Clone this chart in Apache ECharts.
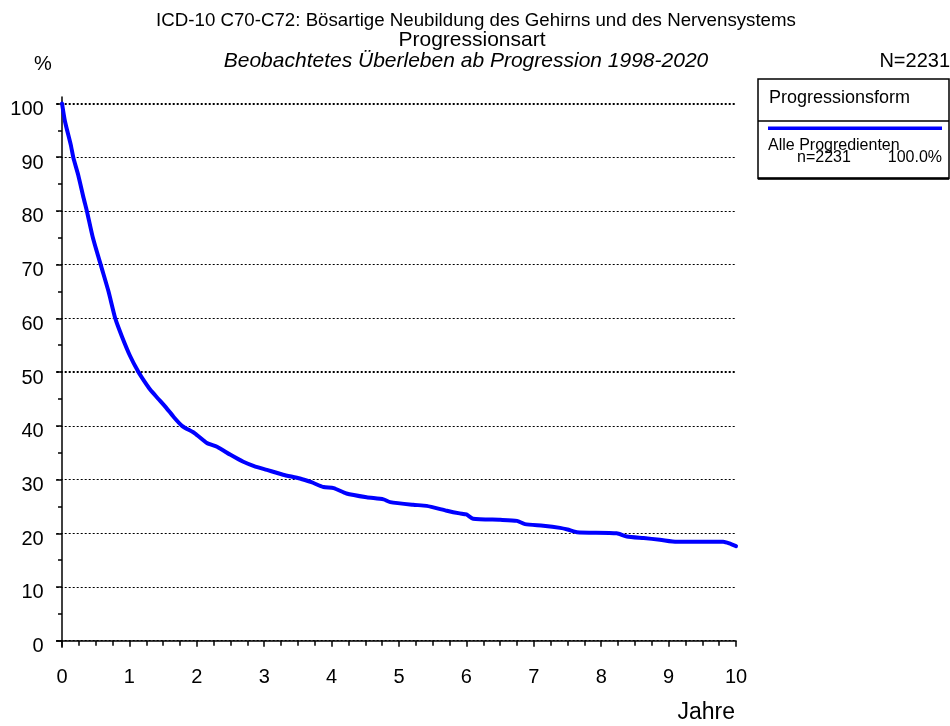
<!DOCTYPE html>
<html>
<head>
<meta charset="utf-8">
<script src="https://cdn.jsdelivr.net/npm/echarts@6.0.0/dist/echarts.min.js"></script>
<style>
html,body{margin:0;padding:0;background:#fff;}
#chart{width:950px;height:726px;}
</style>
</head>
<body>
<div id="chart"></div>
<script>
const years = [0,0.045,0.13,0.17,0.24,0.32,0.37,0.46,0.59,0.69,0.79,0.89,1.01,1.13,1.22,1.31,1.43,1.55,1.66,1.78,1.97,2.15,2.3,2.5,2.69,2.85,3.04,3.28,3.53,3.7,3.88,4.03,4.22,4.52,4.77,4.87,5.21,5.41,5.71,5.9,6.0,6.1,6.5,6.75,6.87,7.14,7.39,7.5,7.64,8.23,8.38,8.63,8.87,9.12,9.81,9.9,10];
const survival = [100,96.6,92.3,89.8,86.7,82.4,79.9,74.9,69.3,65,60,56.6,53.0,50.1,48.3,46.7,45,43.3,41.6,40,38.6,36.8,36.1,34.6,33.3,32.5,31.8,30.9,30.2,29.5,28.6,28.4,27.4,26.7,26.3,25.8,25.3,25.1,24.2,23.7,23.5,22.7,22.5,22.3,21.7,21.4,21.0,20.7,20.2,20.0,19.4,19.1,18.8,18.4,18.4,18.1,17.6];
const xTickLabels = [0,1,2,3,4,5,6,7,8,9,10];
const xMinorTicks = [0,0.25,0.5,0.75,1,1.25,1.5,1.75,2,2.25,2.5,2.75,3,3.25,3.5,3.75,4,4.25,4.5,4.75,5,5.25,5.5,5.75,6,6.25,6.5,6.75,7,7.25,7.5,7.75,8,8.25,8.5,8.75,9,9.25,9.5,9.75,10];
const yTickLabels = [0,10,20,30,40,50,60,70,80,90,100];
const yMinorTicks = [5,15,25,35,45,55,65,75,85,95];
const boldGrid = [50,100];
const titleLines = ['ICD-10 C70-C72: Bösartige Neubildung des Gehirns und des Nervensystems','Progressionsart','Beobachtetes Überleben ab Progression 1998-2020'];
const legendTitle = 'Progressionsform';
const seriesName = 'Alle Progredienten';
const seriesN = 'n=2231';
const seriesPct = '100.0%';
const totalN = 'N=2231';

const font = 'Arial, "Liberation Sans", sans-serif';
const chart = echarts.init(document.getElementById('chart'), null, {renderer:'canvas'});
const data = years.map((t,i)=>[t, survival[i]]);

const gridLines = yTickLabels.map(v => ({
  yAxis: v,
  lineStyle: {color:'#000', type:[2,2], width: boldGrid.includes(v) ? 2 : 1}
}));

const option = {
  animation: false,
  backgroundColor: '#fff',
  grid: {left: 56.7, top: 97, width: 679.3, height: 550.3},
  xAxis: [{
    type: 'value', min: -0.079, max: 10,
    axisLine: {show: true, lineStyle: {color:'#000', width: 1.5}},
    axisTick: {show: true, customValues: xMinorTicks, length: 5, lineStyle:{color:'#000', width:1.5}},
    axisLabel: {customValues: xTickLabels, margin: 20, fontSize: 20, color:'#000', fontFamily: font},
    splitLine: {show: false}
  },{
    type: 'value', min: -0.079, max: 10, position: 'bottom',
    axisLine: {show: false},
    axisTick: {show: true, customValues: xTickLabels, length: 6, lineStyle:{color:'#000', width:1.5}},
    axisLabel: {show: false},
    splitLine: {show: false}
  }],
  yAxis: [{
    type: 'value', min: -1.23, max: 101.21,
    axisLine: {show: true, lineStyle: {color:'#000', width: 1.5}},
    axisTick: {show: true, customValues: yTickLabels, length: 6, lineStyle:{color:'#000', width:1.5}},
    axisLabel: {customValues: yTickLabels, margin: 13, fontSize: 20, color:'#000', fontFamily: font, verticalAlign: 'top', lineHeight: 12},
    splitLine: {show: false}
  },{
    type: 'value', min: -1.23, max: 101.21, position: 'left',
    axisLine: {show: false},
    axisTick: {show: true, customValues: yMinorTicks, length: 4, lineStyle:{color:'#000', width:1.5}},
    axisLabel: {show: false},
    splitLine: {show: false}
  }],
  series: [{
    name: seriesName,
    type: 'line',
    data: data,
    showSymbol: false,
    symbol: 'none',
    smooth: 0.2,
    lineStyle: {color: '#0000ff', width: 4, join: 'round', cap: 'round'},
    markLine: {
      silent: true, symbol: 'none', label: {show: false},
      data: gridLines, z: 1
    },
    z: 3
  }],
  graphic: [
    {type:'text', x: 476, y: 21, style:{text: titleLines[0], font: '18.7px ' + font, fill:'#000', align:'center', verticalAlign:'middle'}},
    {type:'text', x: 472, y: 40, style:{text: titleLines[1], font: '21px ' + font, fill:'#000', align:'center', verticalAlign:'middle'}},
    {type:'text', x: 466, y: 61, style:{text: titleLines[2], font: 'italic 21px ' + font, fill:'#000', align:'center', verticalAlign:'middle'}},
    {type:'text', x: 43, y: 64, style:{text: '%', font: '20px ' + font, fill:'#000', align:'center', verticalAlign:'middle'}},
    {type:'text', x: 950, y: 61, style:{text: totalN, font: '20px ' + font, fill:'#000', align:'right', verticalAlign:'middle'}},
    {type:'text', x: 735, y: 713, style:{text: 'Jahre', font: '23px ' + font, fill:'#000', align:'right', verticalAlign:'middle'}},
    {type:'rect', shape:{x:758, y:79, width:191, height:99.5}, style:{fill:'#fff', stroke:'#000', lineWidth:1.5}},
    {type:'line', shape:{x1:758, y1:178.5, x2:949, y2:178.5}, style:{stroke:'#000', lineWidth:2.5}},
    {type:'line', shape:{x1:758, y1:121, x2:949, y2:121}, style:{stroke:'#000', lineWidth:1.5}},
    {type:'line', shape:{x1:768, y1:128.3, x2:942, y2:128.3}, style:{stroke:'#0000ff', lineWidth:3.5}},
    {type:'text', x: 769, y: 98, style:{text: legendTitle, font: '18px ' + font, fill:'#000', verticalAlign:'middle'}},
    {type:'text', x: 768, y: 146, style:{text: seriesName, font: '16px ' + font, fill:'#000', verticalAlign:'middle'}},
    {type:'text', x: 797, y: 158, style:{text: seriesN, font: '16px ' + font, fill:'#000', verticalAlign:'middle'}},
    {type:'text', x: 942, y: 158, style:{text: seriesPct, font: '16px ' + font, fill:'#000', align:'right', verticalAlign:'middle'}}
  ]
};
chart.setOption(option);
</script>
</body>
</html>
